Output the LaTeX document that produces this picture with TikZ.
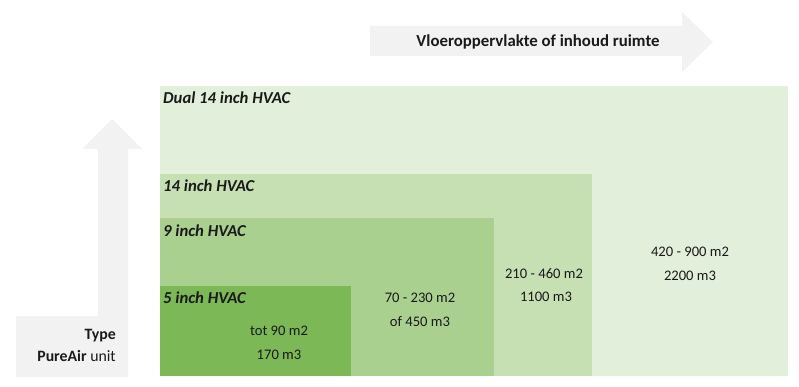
\documentclass[tikz,border=0pt]{standalone}
\usepackage{fontspec}
\setmainfont{Carlito}
\definecolor{arrowgray}{HTML}{F2F2F2}
\definecolor{gA}{HTML}{E2EFDA}
\definecolor{gB}{HTML}{C6E0B4}
\definecolor{gC}{HTML}{A9D08E}
\definecolor{gD}{RGB}{124,184,86}
\definecolor{txt}{HTML}{1A1A1A}
\tikzset{
  band/.style={draw=none},
  bandlabel/.style={anchor=west, inner sep=0pt, font=\fontsize{16.7}{20}\selectfont\bfseries\itshape, text=txt},
  valtext/.style={align=center, inner sep=0pt, font=\fontsize{14.6}{23.5}\selectfont, text=txt},
}
\begin{document}
\begin{tikzpicture}[x=1pt,y=-1pt]
\useasboundingbox (0,0) rectangle (799,387);
% right arrow
\fill[arrowgray] (370,26) -- (682,26) -- (682,12) -- (713,42) -- (682,72) -- (682,56) -- (370,56) -- cycle;
\node[inner sep=0pt, font=\fontsize{16.8}{20}\selectfont\bfseries, text=txt] (xlab) at (538,42) {Vloeroppervlakte of inhoud ruimte};
% bent up arrow
\fill[arrowgray] (16,316) -- (98,316) -- (98,149) -- (82,149) -- (112,119) -- (142,149) -- (128,149) -- (128,377) -- (16,377) -- cycle;
\node[anchor=east, inner sep=0pt, font=\fontsize{15.8}{18}\selectfont, text=txt] (ylab1) at (116,336) {\bfseries Type};
\node[anchor=east, inner sep=0pt, font=\fontsize{15.8}{18}\selectfont, text=txt] (ylab2) at (116,356) {\bfseries PureAir \mdseries unit};
% bands
\fill[gA] (160,86) rectangle (788,376);
\fill[gB] (160,174) rectangle (592,376);
\fill[gC] (160,218) rectangle (494,376);
\fill[gD] (160,286) rectangle (351,376);
% labels
\node[bandlabel] (l4) at (163,98) {Dual 14 inch HVAC};
\node[bandlabel] (l3) at (163,186) {14 inch HVAC};
\node[bandlabel] (l2) at (163,231) {9 inch HVAC};
\node[bandlabel] (l1) at (163,298) {5 inch HVAC};
% values
\node[valtext] (v1) at (279,343) {tot 90 m2\\170 m3};
\node[valtext] (v2) at (420,310) {70 - 230 m2\\of 450 m3};
\node[valtext] (v3) at (544,285) {210 - 460 m2\\\hspace*{4pt}1100 m3};
\node[valtext] (v4) at (690,264) {420 - 900 m2\\2200 m3};
\end{tikzpicture}
\end{document}
